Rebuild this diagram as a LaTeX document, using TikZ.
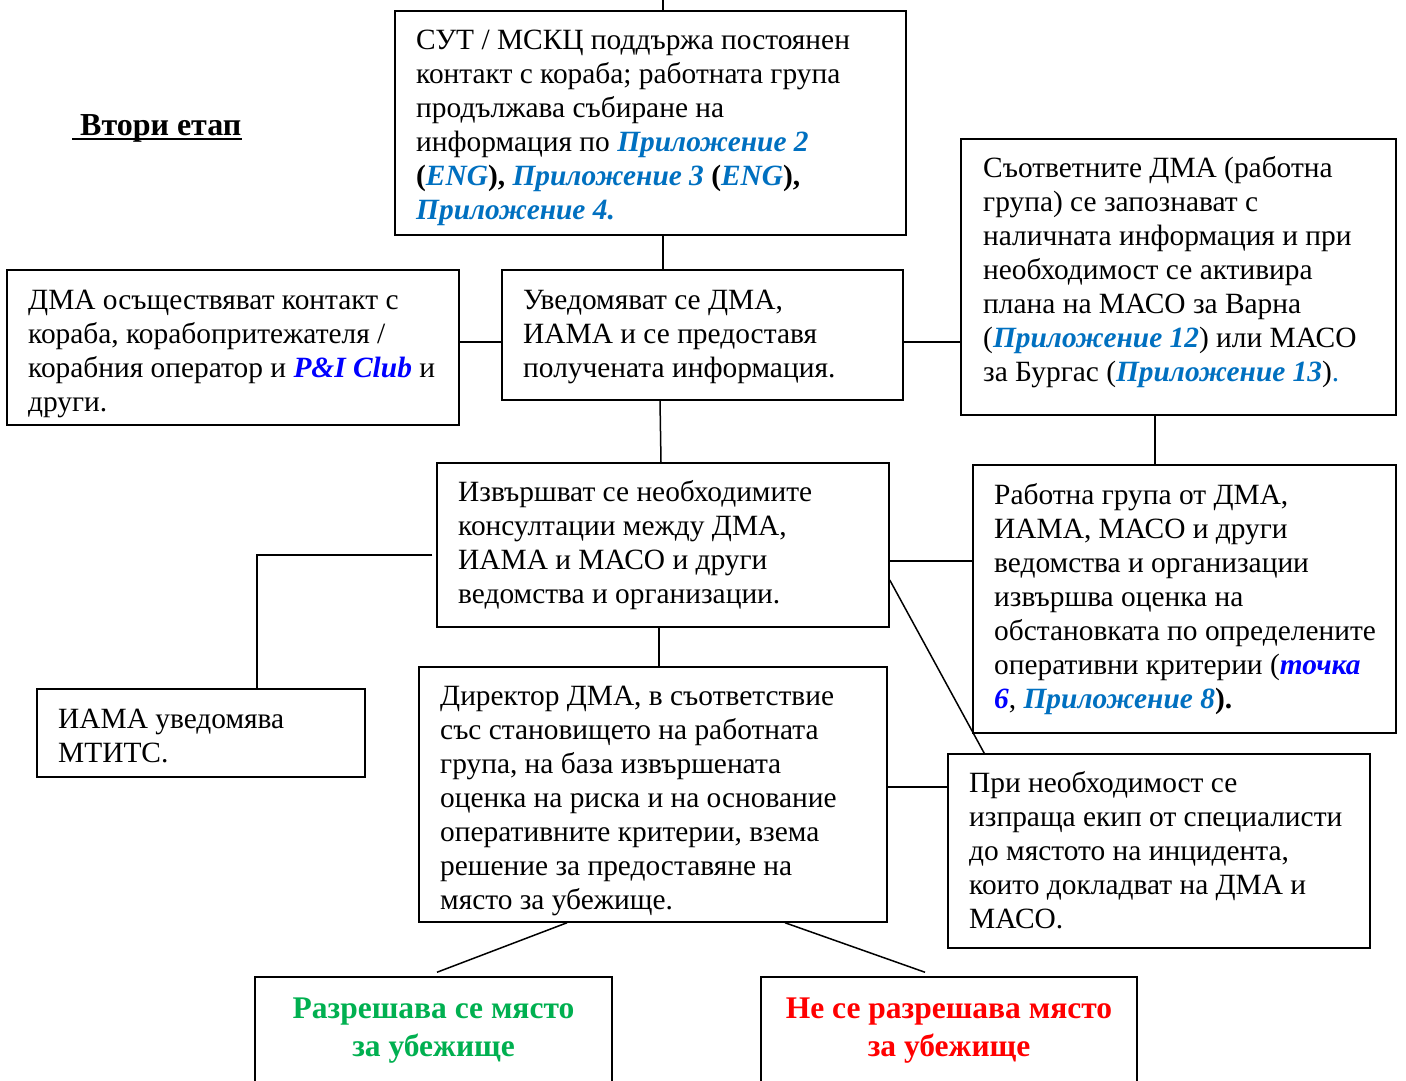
\documentclass[tikz,border=0pt]{standalone}
\usepackage{fontspec}
\setmainfont{Liberation Serif}
\usetikzlibrary{calc}
\definecolor{lnk}{HTML}{0070C0}
\definecolor{pbl}{HTML}{0000FF}
\definecolor{okg}{HTML}{00B050}
\definecolor{nor}{HTML}{FF0000}
\newcommand\lk[1]{\textcolor{lnk}{\textbf{\textit{#1}}}}
\newcommand\pk[1]{\textcolor{pbl}{\textbf{\textit{#1}}}}
\begin{document}
\begin{tikzpicture}[x=1pt,y=-1pt,
 box/.style={draw,line width=1.5pt,rectangle,inner sep=0pt},
 txt/.style={inner sep=0pt,anchor=base west,font=\fontsize{29.4}{34}\selectfont},
 big/.style={inner sep=0pt,anchor=base,font=\fontsize{31.5}{38}\selectfont\bfseries},
 conn/.style={line width=1.5pt}]
\useasboundingbox[fill=white] (0,0) rectangle (1406,1081);

% boxes
\node[box,minimum width=511pt,minimum height=224pt] (top) at (650.5,123) {};
\node[box,minimum width=435pt,minimum height=276pt] (right) at (1178.5,277) {};
\node[box,minimum width=452pt,minimum height=155pt] (left) at (233,347.5) {};
\node[box,minimum width=401pt,minimum height=130pt] (center) at (702.5,335) {};
\node[box,minimum width=452pt,minimum height=164pt] (consult) at (663,545) {};
\node[box,minimum width=423pt,minimum height=268pt] (work) at (1184.5,599) {};
\node[box,minimum width=328pt,minimum height=88pt] (iama) at (201,733) {};
\node[box,minimum width=468pt,minimum height=255pt] (director) at (653,794.5) {};
\node[box,minimum width=422pt,minimum height=194pt] (spec) at (1159,851) {};
\node[box,minimum width=357pt,minimum height=130pt] (green) at (433.5,1042) {};
\node[box,minimum width=376pt,minimum height=130pt] (red) at (949,1042) {};

% texts
\node[inner sep=0pt,anchor=base west,font=\fontsize{32}{34}\selectfont\bfseries] (stage) at (80,135) {Втори етап};
\draw[line width=1.5pt] ([xshift=-8pt,yshift=-4pt]stage.base west) -- ([yshift=-4pt]stage.base east);

\node[txt] (ttop) at (416,50) {\begin{tabular}[t]{@{}l@{}}
СУТ / МСКЦ поддържа постоянен\\
контакт с кораба; работната група\\
продължава събиране на\\
информация по \lk{Приложение 2}\\
\textbf{(}\lk{ENG}\textbf{),} \lk{Приложение 3} \textbf{(}\lk{ENG}\textbf{),}\\
\lk{Приложение 4.}
\end{tabular}};

\node[txt] (tright) at (983,177) {\begin{tabular}[t]{@{}l@{}}
Съответните ДМА (работна\\
група) се запознават с\\
наличната информация и при\\
необходимост се активира\\
плана на МАСО за Варна\\
(\lk{Приложение 12}) или МАСО\\
за Бургас (\lk{Приложение 13})\textcolor{lnk}{.}
\end{tabular}};

\node[txt] (tleft) at (28,309) {\begin{tabular}[t]{@{}l@{}}
ДМА осъществяват контакт с\\
кораба, корабопритежателя /\\
корабния оператор и \pk{P\&I Club} и\\
други.
\end{tabular}};

\node[txt] (tcenter) at (523,309) {\begin{tabular}[t]{@{}l@{}}
Уведомяват се ДМА,\\
ИАМА и се предоставя\\
получената информация.
\end{tabular}};

\node[txt] (tconsult) at (458,501) {\begin{tabular}[t]{@{}l@{}}
Извършват се необходимите\\
консултации между ДМА,\\
ИАМА и МАСО и други\\
ведомства и организации.
\end{tabular}};

\node[txt] (twork) at (994,504) {\begin{tabular}[t]{@{}l@{}}
Работна група от ДМА,\\
ИАМА, МАСО и други\\
ведомства и организации\\
извършва оценка на\\
обстановката по определените\\
оперативни критерии (\pk{точка}\\
\pk{6}, \lk{Приложение 8}\textbf{).}
\end{tabular}};

\node[txt] (tiama) at (58,728) {\begin{tabular}[t]{@{}l@{}}
ИАМА уведомява\\
МТИТС.
\end{tabular}};

\node[txt] (tdirector) at (440,705) {\begin{tabular}[t]{@{}l@{}}
Директор ДМА, в съответствие\\
със становището на работната\\
група, на база извършената\\
оценка на риска и на основание\\
оперативните критерии, взема\\
решение за предоставяне на\\
място за убежище.
\end{tabular}};

\node[txt] (tspec) at (969,792) {\begin{tabular}[t]{@{}l@{}}
При необходимост се\\
изпраща екип от специалисти\\
до мястото на инцидента,\\
които докладват на ДМА и\\
МАСО.
\end{tabular}};

\node[big,text=okg] (tgreen) at (433.5,1018) {\begin{tabular}[t]{@{}c@{}}
Разрешава се място\\
за убежище
\end{tabular}};

\node[big,text=nor] (tred) at (949,1018) {\begin{tabular}[t]{@{}c@{}}
Не се разрешава място\\
за убежище
\end{tabular}};

% connectors
\coordinate (topin) at (663,-5);
\draw[conn] (topin) -- ([xshift=12.5pt]top.north);
\draw[conn] ([xshift=12.5pt]top.south) -- ([xshift=-39.5pt]center.north);
\coordinate (lc) at ([yshift=5.5pt]left.east);
\draw[conn] (lc) -- (lc -| center.west);
\coordinate (rc) at ([yshift=-7pt]center.east);
\draw[conn] (rc) -- (rc -| right.west);
\draw[conn] ([xshift=-42.5pt]center.south) -- ([xshift=-2pt]consult.north);
\draw[conn] ([xshift=-23.5pt]right.south) -- ([xshift=-29.5pt]work.north);
\coordinate (cw) at ([yshift=-16pt]consult.east);
\draw[conn] (cw) -- (cw -| work.west);
\draw[conn] ([yshift=-10pt,xshift=-4pt]consult.west) -| ([xshift=56pt]iama.north);
\draw[conn] ([xshift=-4pt]consult.south) -- ([xshift=6pt]director.north);
\draw[conn] ([yshift=-35pt]consult.east) -- ([xshift=37pt]spec.north west);
\coordinate (ds) at ([yshift=7.5pt]director.east);
\draw[conn] (ds) -- (ds -| spec.west);
\draw[conn] ([xshift=-86pt]director.south) -- ([xshift=3.5pt,yshift=4pt]green.north);
\draw[conn] ([xshift=132pt]director.south) -- ([xshift=-24pt,yshift=4pt]red.north);
\end{tikzpicture}
\end{document}
